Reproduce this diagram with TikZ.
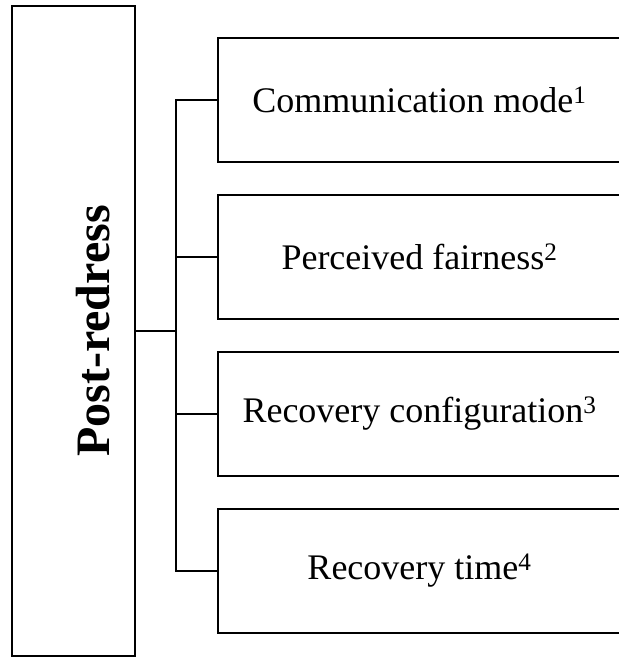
\documentclass[tikz,border=0pt]{standalone}
\usepackage{fontspec}
\setmainfont{Liberation Serif}
\usetikzlibrary{positioning}
\tikzset{
  itembox/.style={draw=black,line width=2pt,minimum width=403pt,minimum height=124pt,
                  inner sep=0pt,font=\fontsize{36}{40}\selectfont},
  mainbox/.style={draw=black,line width=2pt,minimum width=123pt,minimum height=650pt,inner sep=0pt},
  link/.style={line width=2pt,draw=black}
}
\begin{document}
\begin{tikzpicture}[x=1pt,y=-1pt,node distance=31pt]
  \useasboundingbox (0,0) rectangle (619,657);
  \node[mainbox] (post) at (73.5,331) {};
  \node[rotate=90,font=\fontsize{48}{52}\selectfont\bfseries] (postlbl) at ([xshift=20pt]post.center) {Post-redress};
  \node[itembox,anchor=north west] (comm) at (217,37) {Communication mode\textsuperscript{1}};
  \node[itembox,below=of comm] (fair) {Perceived fairness\textsuperscript{2}};
  \node[itembox,below=of fair] (conf) {Recovery configuration\textsuperscript{3}};
  \node[itembox,below=of conf] (rtime) {Recovery time\textsuperscript{4}};
  \coordinate (hub) at (176,331);
  \draw[link] (post.east) -- (hub);
  \draw[link] (comm.west) -| (hub);
  \draw[link] (rtime.west) -| (hub);
  \draw[link] (fair.west) -- (fair.west -| hub);
  \draw[link] (conf.west) -- (conf.west -| hub);
\end{tikzpicture}
\end{document}
